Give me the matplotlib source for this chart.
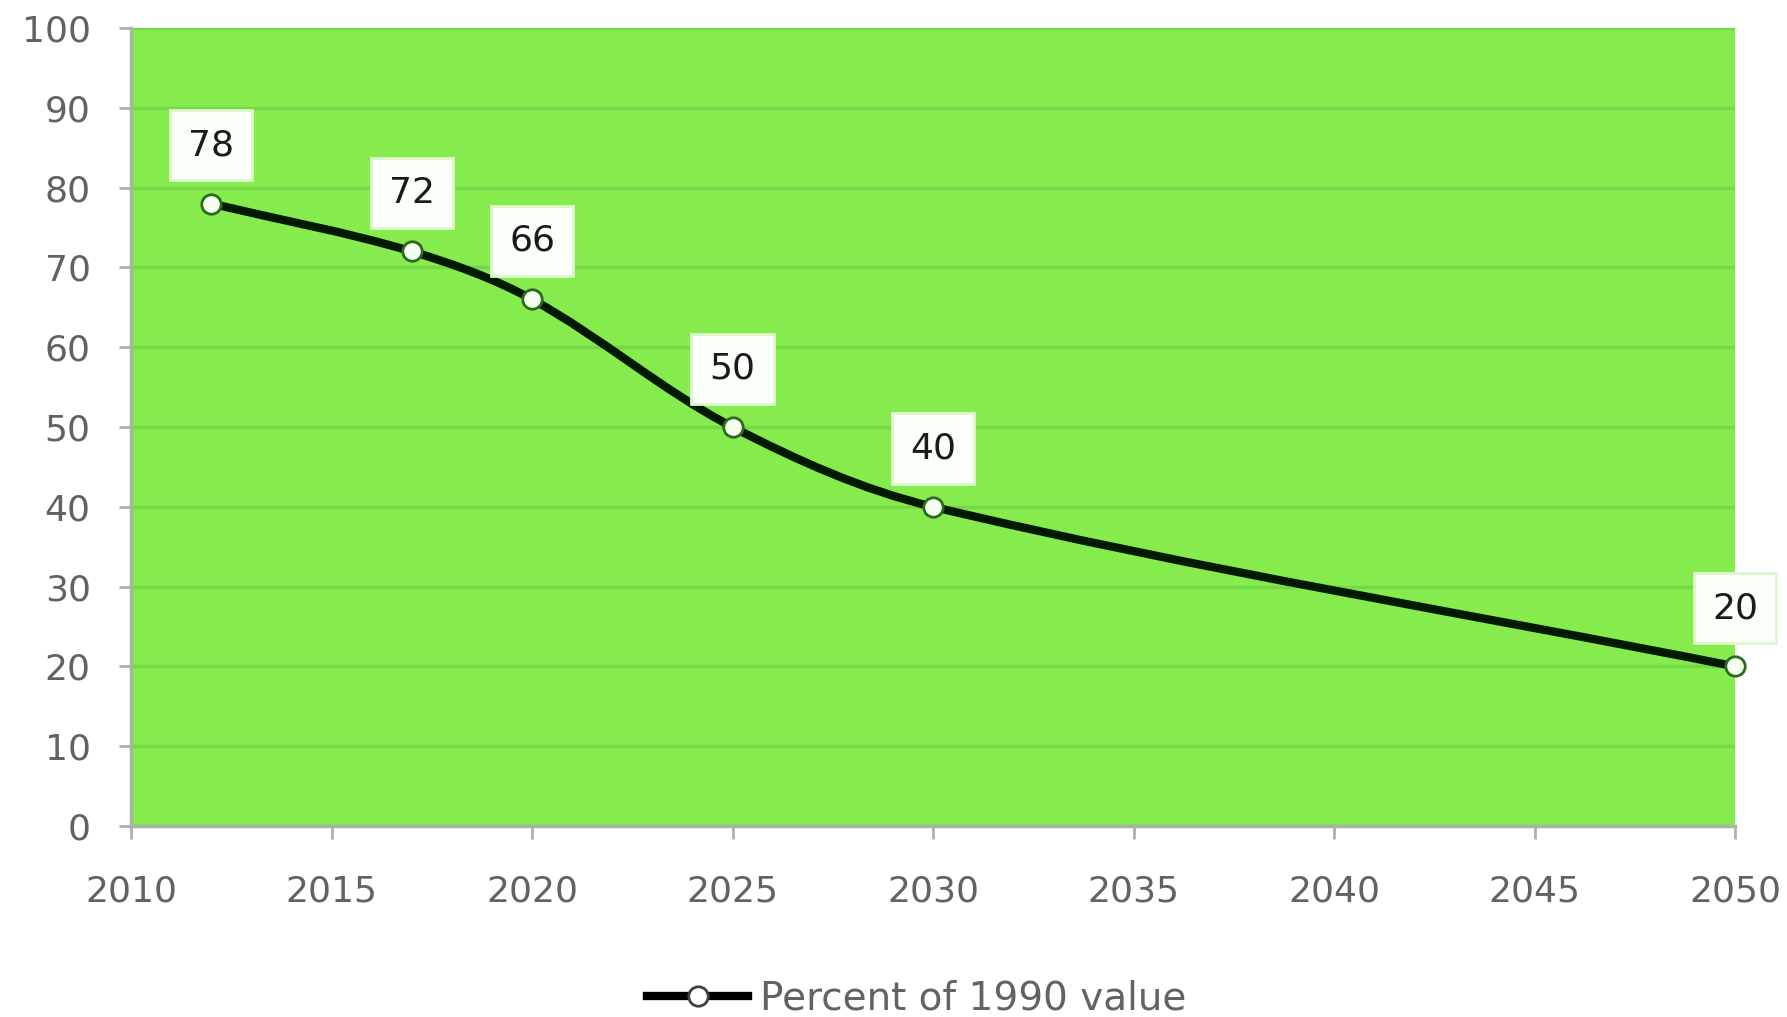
import math
import matplotlib
matplotlib.use("Agg")
from matplotlib import pyplot as plt
from matplotlib.path import Path
from matplotlib.patches import PathPatch
from matplotlib.lines import Line2D

# data: reduction target as percent of the 1990 value
years = [2012, 2017, 2020, 2025, 2030, 2050]
percent = [78, 72, 66, 50, 40, 20]
x_ticks = [2010, 2015, 2020, 2025, 2030, 2035, 2040, 2045, 2050]
y_ticks = [0, 10, 20, 30, 40, 50, 60, 70, 80, 90, 100]
series_name = "Percent of 1990 value"

BG_GREEN = "#86ec4e"
GRID_GREEN = "#76d846"
AXIS_GRAY = "#a8b4a8"
TEXT_GRAY = "#626262"

X_SCALE = 5.0  # roughly how many y units one year takes on screen


###############
#function: smooth_path
#description: builds a smoothed line through the points with cubic bezier segments.
#               tangents follow the neighbour direction, the handle length follows the
#               length of each segment so long segments do not overshoot
#parameters: xs; list, ys; list
#return: matplotlib Path
###############
def smooth_path(xs, ys):
    pts = [(x * X_SCALE, y) for x, y in zip(xs, ys)]
    n = len(pts)

    def tangent(i):
        a = pts[max(i - 1, 0)]
        b = pts[min(i + 1, n - 1)]
        dx, dy = b[0] - a[0], b[1] - a[1]
        d = math.hypot(dx, dy)
        return dx / d, dy / d

    verts = [pts[0]]
    codes = [Path.MOVETO]
    for i in range(n - 1):
        p1, p2 = pts[i], pts[i + 1]
        seg = math.hypot(p2[0] - p1[0], p2[1] - p1[1]) / 3.0
        t1, t2 = tangent(i), tangent(i + 1)
        c1 = (p1[0] + t1[0] * seg, p1[1] + t1[1] * seg)
        c2 = (p2[0] - t2[0] * seg, p2[1] - t2[1] * seg)
        verts += [c1, c2, p2]
        codes += [Path.CURVE4, Path.CURVE4, Path.CURVE4]
    verts = [(vx / X_SCALE, vy) for vx, vy in verts]
    return Path(verts, codes)


fig = plt.figure(figsize=(17.87, 10.17), dpi=100)
ax = fig.add_axes([131 / 1787, 1 - 826 / 1017, (1735 - 131) / 1787, (826 - 28) / 1017])

ax.set_facecolor(BG_GREEN)
ax.set_xlim(2010, 2050)
ax.set_ylim(0, 100)

# horizontal gridlines
ax.set_yticks(y_ticks)
ax.set_xticks(x_ticks)
ax.yaxis.grid(True, color=GRID_GREEN, linewidth=2.5)
ax.set_axisbelow(True)

for side in ["top", "right"]:
    ax.spines[side].set_visible(False)
for side in ["left", "bottom"]:
    ax.spines[side].set_color(AXIS_GRAY)
    ax.spines[side].set_linewidth(2.5)

ax.tick_params(axis="both", colors=AXIS_GRAY, labelcolor=TEXT_GRAY,
               labelsize=26, length=9, width=2)
ax.tick_params(axis="x", pad=26)
ax.tick_params(axis="y", pad=20)

# smoothed line plus open markers
line_patch = PathPatch(smooth_path(years, percent), facecolor="none",
                       edgecolor="#001a00", linewidth=6, zorder=3,
                       capstyle="round", joinstyle="round")
ax.add_patch(line_patch)
ax.plot(years, percent, linestyle="none", marker="o", markersize=14,
        markerfacecolor="#f4fff0", markeredgecolor="#2e6a1e",
        markeredgewidth=2, zorder=4, clip_on=False)

# value labels in white boxes above each point
for x, y in zip(years, percent):
    ax.annotate(str(y), (x, y), xytext=(0, 42), textcoords="offset points",
                ha="center", va="center", fontsize=26, color="#1a1a1a",
                zorder=5, annotation_clip=False,
                bbox=dict(boxstyle="square,pad=0.5", facecolor="#fbfffa",
                          edgecolor="#dcf8cc", linewidth=2))

# legend under the chart
handle = Line2D([0], [0], color="#000000", linewidth=6, marker="o",
                markersize=14, markerfacecolor="white",
                markeredgecolor="#404040", markeredgewidth=2)
fig.legend([handle], [series_name], loc="center", bbox_to_anchor=(0.513, 1 - 999 / 1017),
           frameon=False, fontsize=28, labelcolor=TEXT_GRAY,
           handlelength=2.6, handletextpad=0.3)

fig.savefig("out.png", dpi=100, facecolor="white")
